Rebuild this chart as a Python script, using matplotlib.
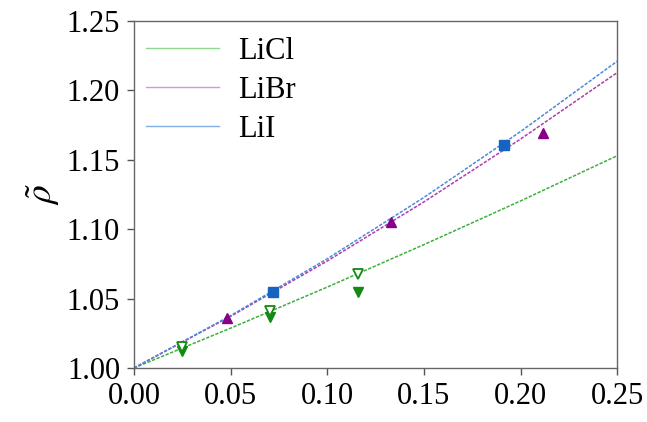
import matplotlib
matplotlib.use("Agg")
import matplotlib.pyplot as plt
from matplotlib.lines import Line2D

plt.rcParams['font.family'] = ['Liberation Serif', 'DejaVu Serif']
plt.rcParams['mathtext.fontset'] = 'stix'

# fitted curves
x_line = [0.0, 0.05, 0.10, 0.15, 0.20, 0.25]
licl_line = [1.0, 1.0287, 1.0583, 1.0889, 1.1204, 1.153]
libr_line = [1.0, 1.0372, 1.0771, 1.1197, 1.1650, 1.2129]
lii_line = [1.0, 1.0377, 1.0787, 1.1229, 1.1704, 1.2211]

# data points
licl_x_open = [0.0247, 0.0704, 0.116]
licl_y_open = [1.015, 1.041, 1.068]
licl_x_fill = [0.0247, 0.0704, 0.116]
licl_y_fill = [1.012, 1.037, 1.055]
libr_x = [0.048, 0.133, 0.2115]
libr_y = [1.036, 1.105, 1.1695]
lii_x = [0.0718, 0.1915]
lii_y = [1.055, 1.161]

labels = ["LiCl", "LiBr", "LiI"]

c_green, c_purple, c_blue = "#3fae3f", "#b03cb0", "#4a8ad8"
m_green, m_purple, m_blue = "#138a13", "#880088", "#1464c0"
leg_cols = ["#90d890", "#d896d8", "#80b0e4"]

fig = plt.figure(figsize=(6.47, 4.22), dpi=100)
ax = fig.add_axes([0.207, 0.128, 0.747, 0.822])

dash = (0, (2.2, 1.0))
ax.plot(x_line, licl_line, color=c_green, lw=1.1, linestyle=dash)
ax.plot(x_line, libr_line, color=c_purple, lw=1.1, linestyle=dash)
ax.plot(x_line, lii_line, color=c_blue, lw=1.1, linestyle=dash)

ax.plot(licl_x_fill, licl_y_fill, linestyle='none', marker='v', ms=7,
        color=m_green, mec=m_green)
ax.plot(licl_x_open, licl_y_open, linestyle='none', marker='v', ms=7,
        mfc='white', mec=m_green, mew=1.3)
ax.plot(libr_x, libr_y, linestyle='none', marker='^', ms=7,
        color=m_purple, mec=m_purple)
ax.plot(lii_x, lii_y, linestyle='none', marker='s', ms=6.5,
        color=m_blue, mec=m_blue)

ax.set_xlim(0, 0.25)
ax.set_ylim(1.0, 1.25)
ax.set_xticks([0.0, 0.05, 0.10, 0.15, 0.20, 0.25])
ax.set_yticks([1.00, 1.05, 1.10, 1.15, 1.20, 1.25])
ax.set_xticklabels(["0.00", "0.05", "0.10", "0.15", "0.20", "0.25"])
ax.set_yticklabels(["1.00", "1.05", "1.10", "1.15", "1.20", "1.25"])
ax.tick_params(direction='out', length=5, width=1, colors='#555555',
               labelcolor='black', labelsize=22, pad=5)
for s in ax.spines.values():
    s.set_color('#666666')
    s.set_linewidth(1.0)

ax.set_ylabel(r'$\tilde{\rho}$', fontsize=27, labelpad=3)

handles = [Line2D([], [], color=c, lw=1.0) for c in leg_cols]
ax.legend(handles, labels, loc='upper left', frameon=False, fontsize=22,
          handlelength=2.4, handletextpad=0.6, labelspacing=0.33,
          borderaxespad=0.0, borderpad=0.0, bbox_to_anchor=(0.025, 0.955))

fig.savefig("out.png", dpi=100)
